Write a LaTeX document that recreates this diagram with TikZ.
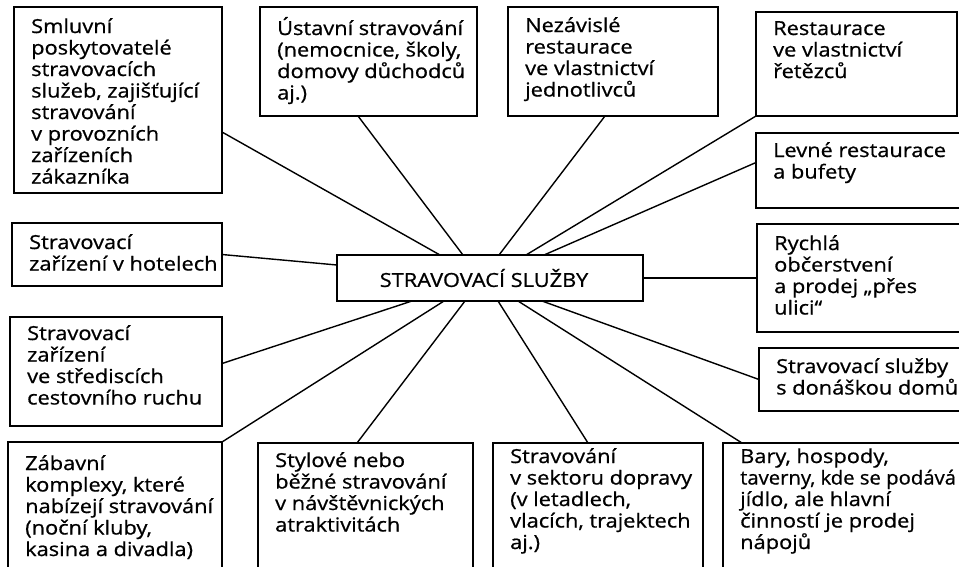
\documentclass[tikz,border=0pt]{standalone}
\usepackage{fontspec}
\setmainfont{Open Sans}[FakeStretch=1.13,FakeBold=0.8]
\usetikzlibrary{calc}
\tikzset{
  boxn/.style={draw, line width=1.6pt, rectangle, inner sep=0pt, outer sep=0pt, anchor=north west},
  lbl/.style={inner sep=0pt, anchor=base west, font=\fontsize{19.3}{21.5}\selectfont},
  conn/.style={line width=1.4pt},
}
\newcommand\mybox[7]{%
  \node[boxn, minimum width={#4-#2}, minimum height={#5-#3}] (#1) at (#2,#3) {};
  \node[lbl] (#1t) at (#2+17,#6) {\parbox[t]{300pt}{\raggedright #7}};
}
\newcommand\tight[1]{\scalebox{0.93}[1]{#1}}
\begin{document}
\begin{tikzpicture}[x=1pt,y=-1pt]
\useasboundingbox (0,0) rectangle (959,566);
\clip (0,0) rectangle (959,566);
\fill[white] (0,0) rectangle (959,566);

\mybox{b1}{14}{7}{222}{193}{33}{Smluvní\\poskytovatelé\\stravovacích\\služeb, zajišťující\\stravování\\v provozních\\zařízeních\\zákazníka}
\mybox{b2}{260}{7}{477}{116}{35}{Ústavní stravování\\(nemocnice, školy,\\domovy důchodců\\aj.)}
\mybox{b3}{508}{7}{718}{116}{32}{Nezávislé\\restaurace\\ve vlastnictví\\jednotlivců}
\mybox{b4}{756}{12}{957}{116}{35}{Restaurace\\ve vlastnictví\\řetězců}
\mybox{b5}{756}{133}{962}{208}{157}{Levné restaurace\\a bufety}
\mybox{b6}{12}{223}{222}{286}{249}{Stravovací\\zařízení v hotelech}
\mybox{c}{337}{255}{643}{301}{286}{}
\node[lbl, anchor=center] (ct) at ([xshift=-6pt]c.center) {STRAVOVACÍ SLUŽBY};
\mybox{b7}{757}{224}{962}{332}{250}{Rychlá\\občerstvení\\a prodej „přes\\ulici“}
\mybox{b8}{10}{317}{222}{426}{340}{Stravovací\\zařízení\\ve střediscích\\cestovního ruchu}
\mybox{b9}{759}{348}{962}{411}{373}{Stravovací služby\\s donáškou domů}
\mybox{b10}{8}{442}{222}{580}{470}{Zábavní\\komplexy, které\\nabízejí stravování\\(noční kluby,\\kasina a divadla)}
\mybox{b11}{258}{443}{473}{580}{467}{Stylové nebo\\běžné stravování\\v návštěvnických\\atraktivitách}
\mybox{b12}{493}{443}{703}{580}{463}{Stravování\\v sektoru dopravy\\(v letadlech,\\vlacích, trajektech\\aj.)}
\mybox{b13}{723}{443}{965}{580}{463}{Bary, hospody,\\\tight{taverny, kde se podává}\\jídlo, ale hlavní\\činností je prodej\\nápojů}

% connectors
\draw[conn] ([yshift=-32pt]b1.east) -- ([xshift=103pt]c.north west);
\draw[conn] ([xshift=98pt]b2.south west) -- ([xshift=126pt]c.north west);
\draw[conn] ([xshift=97pt]b3.south west) -- ([xshift=162pt]c.north west);
\draw[conn] (b4.south west) -- ([xshift=189pt]c.north west);
\draw[conn] ([yshift=8pt]b5.west) -- ([xshift=207pt]c.north west);
\draw[conn] (b6.east) -- ([yshift=13pt]c.west);
\draw[conn] (c.east) -- (c.east -| b7.west);
\draw[conn] ([yshift=8pt]b8.east) -- ([xshift=75pt]c.south west);
\draw[conn] (b9.west) -- ([xshift=205pt]c.south west);
\draw[conn] (b10.north east) -- ([xshift=107pt]c.south west);
\draw[conn] ([xshift=99pt]b11.north west) -- ([xshift=128pt]c.south west);
\draw[conn] ([xshift=95pt]b12.north west) -- ([xshift=161pt]c.south west);
\draw[conn] ([xshift=19pt]b13.north west) -- ([xshift=181pt]c.south west);
\end{tikzpicture}
\end{document}
